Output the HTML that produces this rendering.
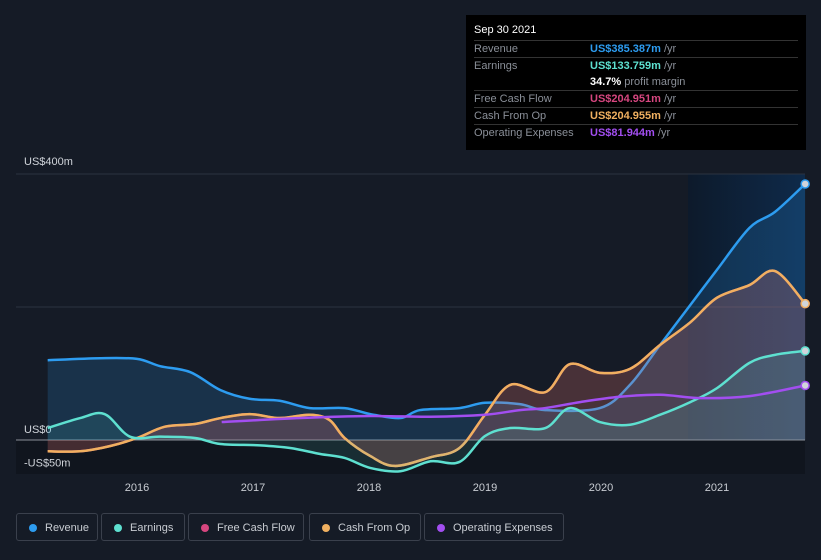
<!DOCTYPE html>
<html><head><meta charset="utf-8"><style>
body{margin:0;background:#151b26;font-family:"Liberation Sans",sans-serif;}
#wrap{position:relative;width:821px;height:560px;overflow:hidden;}
.tt{position:absolute;left:466px;top:15px;width:340px;height:135px;background:#000;color:#8a8f98;font-size:11px;}
.tt .row{position:absolute;left:8px;right:8px;border-top:1px solid #333;height:16px;line-height:16px;}
.tt .v{position:absolute;left:116px;font-weight:bold;}
.leg{position:absolute;top:513px;height:28px;border:1px solid #3a404c;border-radius:3px;color:#c8ccd2;font-size:11px;line-height:28px;box-sizing:border-box;padding-left:28px;}
.leg i{position:absolute;left:12px;top:10px;width:8px;height:8px;border-radius:50%;}
</style></head><body><div id="wrap">
<svg id="svg" width="821" height="560" style="position:absolute;left:0;top:0"></svg>
<div class="tt">
<div style="position:absolute;left:8px;top:9px;color:#fff;font-size:11px">Sep 30 2021</div>
<div class="row" style="top:25px">Revenue<span class="v" style="color:#2d9cf0">US$385.387m <span style="color:#8a8f98;font-weight:normal">/yr</span></span></div>
<div class="row" style="top:42px">Earnings<span class="v" style="color:#5ee0d0">US$133.759m <span style="color:#8a8f98;font-weight:normal">/yr</span></span></div>
<div style="position:absolute;left:124px;top:59px;line-height:16px"><b style="color:#fff">34.7%</b> profit margin</div>
<div class="row" style="top:75px">Free Cash Flow<span class="v" style="color:#d6467f">US$204.951m <span style="color:#8a8f98;font-weight:normal">/yr</span></span></div>
<div class="row" style="top:92px">Cash From Op<span class="v" style="color:#f0b060">US$204.955m <span style="color:#8a8f98;font-weight:normal">/yr</span></span></div>
<div class="row" style="top:109px">Operating Expenses<span class="v" style="color:#a24ef0">US$81.944m <span style="color:#8a8f98;font-weight:normal">/yr</span></span></div>
</div>
<div class="leg" style="left:16px;width:82px"><i style="background:#2d9cf0"></i>Revenue</div>
<div class="leg" style="left:101px;width:84px"><i style="background:#5ee0d0"></i>Earnings</div>
<div class="leg" style="left:188px;width:116px"><i style="background:#d6467f"></i>Free Cash Flow</div>
<div class="leg" style="left:309px;width:112px"><i style="background:#f0b060"></i>Cash From Op</div>
<div class="leg" style="left:424px;width:140px"><i style="background:#a24ef0"></i>Operating Expenses</div>
</div>
<script>
const revX=[15.23,15.68,16.0,16.2,16.46,16.72,16.97,17.23,17.49,17.79,18.01,18.27,18.44,18.78,19.0,19.3,19.52,19.99,20.25,20.51,20.77,21.0,21.28,21.5,21.76];
const revV=[120,123,122,111,102,75,62,59,48,48,39,33,45,48,56,54,45,48,83,143,203,256,319,343,385];
const earnX=[15.23,15.51,15.72,15.94,16.2,16.5,16.72,17.06,17.32,17.58,17.79,18.01,18.27,18.53,18.78,19.0,19.22,19.52,19.73,19.99,20.25,20.51,20.77,21.0,21.28,21.5,21.76];
const earnV=[18,33,39,5,5,3,-6,-8,-12,-21,-27,-42,-47,-32,-33,6,18,18,48,27,23,38,57,78,116,128,134];
const cfoX=[15.23,15.51,15.77,16.0,16.24,16.5,16.72,16.97,17.23,17.49,17.66,17.79,18.01,18.22,18.53,18.78,19.0,19.22,19.52,19.73,19.99,20.25,20.51,20.77,21.0,21.28,21.5,21.76];
const cfoV=[-17,-17,-9,3,20,24,33,39,33,38,30,3,-24,-39,-26,-12,38,83,72,114,101,107,143,177,214,233,254,205];
const fcfV=[-17,-17,-9,3,20,24,33,39,33,38,30,3,-24,-39,-26,-12,38,83,72,114,101,107,143,177,214,233,254,205];
const opxX=[16.73,17.41,18.01,18.53,19.0,19.3,19.52,19.82,20.16,20.51,20.86,21.28,21.76];
const opxV=[27,33,36,35,38,45,48,57,65,68,63,66,82];
const yTicks=[400,0,-50];const yLabels=["US$400m","US$0","-US$50m"];
const xTicks=[2016,2017,2018,2019,2020,2021];
const X=y=>137+(y-(y>100?2016:16))*116;
const Y=v=>440-v*0.665;
const svg=document.getElementById('svg');const NS='http://www.w3.org/2000/svg';
function mk(t,a,name){const e=document.createElementNS(NS,t);for(const k in a)e.setAttribute(k,a[k]);


svg.appendChild(e);return e;}
svg.innerHTML='<defs><linearGradient id="hl" x1="0" x2="1"><stop offset="0" stop-color="#0d1a2b"/><stop offset="1" stop-color="#0e2a4a"/></linearGradient></defs>';
mk('rect',{x:688,y:174,width:117,height:300,fill:'url(#hl)'},'highlight-region');
mk('rect',{x:16,y:440,width:789,height:34,fill:'#10151e'},'negative-band');
[400,200,0].forEach(v=>mk('line',{x1:16,x2:805,y1:Y(v),y2:Y(v),stroke:v==0?'#8a8f98':'#2c3340','stroke-width':1},'gridline'));
yTicks.forEach((v,i)=>{const t=mk('text',{x:24,y:Y(v)-(v==400?9:7),fill:'#d0d4da','font-size':11},'y-tick-label');t.textContent=yLabels[i];});
xTicks.forEach(y=>{const t=mk('text',{x:X(y),y:491,fill:'#c8ccd2','font-size':11,'text-anchor':'middle'},'x-tick-label');t.textContent=y;});
function path(xs,vs){const p=xs.map((x,i)=>[X(x),Y(vs[i])]);let d='M'+p[0];for(let i=0;i<p.length-1;i++){const p0=p[i-1]||p[i],p1=p[i],p2=p[i+1],p3=p[i+2]||p2;
d+=' C'+(p1[0]+(p2[0]-p0[0])/6)+','+(p1[1]+(p2[1]-p0[1])/6)+' '+(p2[0]-(p3[0]-p1[0])/6)+','+(p2[1]-(p3[1]-p1[1])/6)+' '+p2;}return {d,p};}
function series(xs,vs,col,fillOp,name){const {d,p}=path(xs,vs);
if(fillOp)mk('path',{d:d+' L'+p[p.length-1][0]+','+Y(0)+' L'+p[0][0]+','+Y(0)+'Z',fill:col,'fill-opacity':fillOp},name+'-area');
mk('path',{d,fill:'none',stroke:col,'stroke-width':2.5},name+'-line');
mk('circle',{cx:p[p.length-1][0],cy:p[p.length-1][1],r:4,fill:'#d0d4da',stroke:col,'stroke-width':1.5},name+'-end-point');}
series(revX,revV,'#2d9cf0',0.18,'revenue');
series(cfoX,fcfV,'#d6467f',0.15,'free-cash-flow');
series(cfoX,cfoV,'#f0b060',0.12,'cash-from-op');
series(earnX,earnV,'#5ee0d0',0.12,'earnings');
series(opxX,opxV,'#a24ef0',0,'operating-expenses');
</script></body></html>
